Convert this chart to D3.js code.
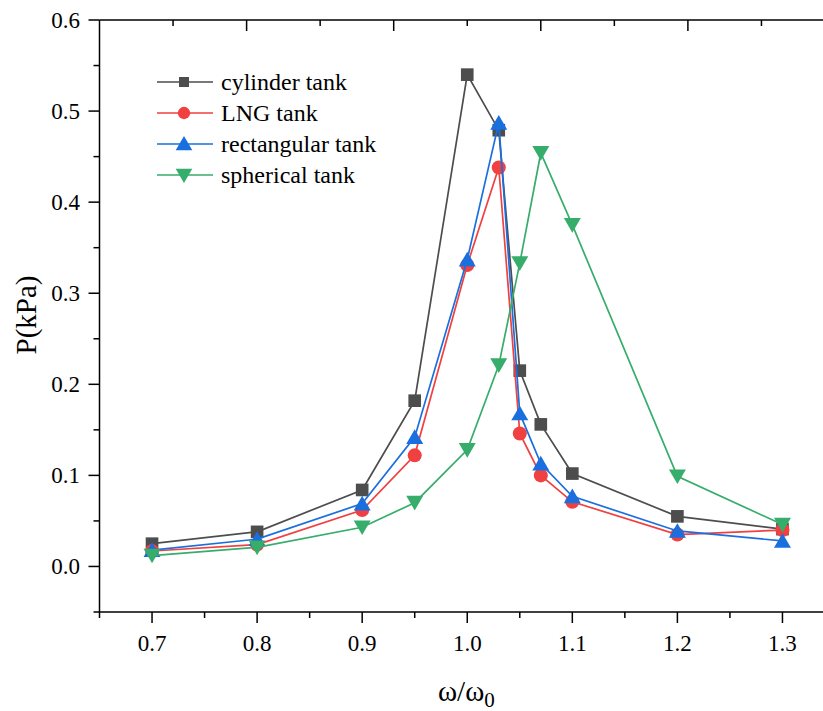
<!DOCTYPE html>
<html>
<head>
<meta charset="utf-8">
<script src="https://cdn.jsdelivr.net/npm/d3@7"></script>
<style>
  html, body { margin: 0; padding: 0; background: #fff; }
  svg { display: block; font-family: "Liberation Serif", "Times New Roman", serif; }
</style>
</head>
<body>
<div id="chart"></div>
<script>
// ------- Data
const freqRatio = [0.7, 0.8, 0.9, 0.95, 1.0, 1.03, 1.05, 1.07, 1.1, 1.2, 1.3];

const cylinderTank    = [0.025, 0.038, 0.084, 0.182, 0.540, 0.479, 0.215, 0.156, 0.102, 0.055, 0.041];
const lngTank         = [0.017, 0.024, 0.062, 0.122, 0.331, 0.438, 0.146, 0.100, 0.071, 0.035, 0.040];
const rectangularTank = [0.018, 0.030, 0.069, 0.142, 0.337, 0.487, 0.168, 0.113, 0.077, 0.039, 0.028];
const sphericalTank   = [0.012, 0.021, 0.043, 0.070, 0.128, 0.221, 0.333, 0.454, 0.375, 0.099, 0.046];

const seriesNames = ['cylinder tank', 'LNG tank', 'rectangular tank', 'spherical tank'];

const xTicks = [0.7, 0.8, 0.9, 1.0, 1.1, 1.2, 1.3];
const yTicks = [0.0, 0.1, 0.2, 0.3, 0.4, 0.5, 0.6];

// ------- Series styling
const series = [
  { name: seriesNames[0], values: cylinderTank,    color: '#4d4d4d', symbol: d3.symbolSquare,   size: 160, rot: 0 },
  { name: seriesNames[1], values: lngTank,         color: '#f14040', symbol: d3.symbolCircle,   size: 155, rot: 0 },
  { name: seriesNames[2], values: rectangularTank, color: '#1a6fdf', symbol: d3.symbolTriangle, size: 125, rot: 0 },
  { name: seriesNames[3], values: sphericalTank,   color: '#37ad6b', symbol: d3.symbolTriangle, size: 125, rot: 180 }
];

// ------- Dimensions
const width = 823, height = 711;
const plot = { left: 99.5, right: 835, top: 20, bottom: 612 };

const svg = d3.select('#chart').append('svg')
  .attr('width', width)
  .attr('height', height)
  .attr('viewBox', `0 0 ${width} ${height}`);

// ------- Scales
const x = d3.scaleLinear().domain([0.65, 1.35]).range([plot.left, plot.right]);
const y = d3.scaleLinear().domain([-0.05, 0.6]).range([plot.bottom, plot.top]);
// top axis in Origin uses its own (unlabelled) scale: 5 major divisions
const xTop = d3.scaleLinear().domain([0, 5]).range([plot.left, plot.right]);

const MAJOR = 11, MINOR = 6;
const axisColor = '#000';

// ------- Bottom axis
const bottomAxis = svg.append('g');
bottomAxis.append('line')
  .attr('x1', plot.left).attr('x2', plot.right)
  .attr('y1', plot.bottom).attr('y2', plot.bottom)
  .attr('stroke', axisColor).attr('stroke-width', 1.5);
const xMinor = d3.range(0.65, 1.36, 0.1).map(v => +v.toFixed(2));
bottomAxis.selectAll('.xmin').data(xMinor).join('line')
  .attr('x1', d => x(d)).attr('x2', d => x(d))
  .attr('y1', plot.bottom).attr('y2', plot.bottom + MINOR)
  .attr('stroke', axisColor).attr('stroke-width', 1.5);
bottomAxis.selectAll('.xmaj').data(xTicks).join('line')
  .attr('x1', d => x(d)).attr('x2', d => x(d))
  .attr('y1', plot.bottom).attr('y2', plot.bottom + MAJOR)
  .attr('stroke', axisColor).attr('stroke-width', 1.5);
bottomAxis.selectAll('.xlab').data(xTicks).join('text')
  .attr('x', d => x(d)).attr('y', 651)
  .attr('text-anchor', 'middle')
  .attr('font-size', 23)
  .attr('fill', '#000')
  .text(d => d.toFixed(1));

// ------- Top axis (ticks inward, no labels)
const topAxis = svg.append('g');
topAxis.append('line')
  .attr('x1', plot.left).attr('x2', plot.right)
  .attr('y1', plot.top).attr('y2', plot.top)
  .attr('stroke', axisColor).attr('stroke-width', 1.5);
topAxis.selectAll('.tmaj').data(d3.range(1, 5)).join('line')
  .attr('x1', d => xTop(d)).attr('x2', d => xTop(d))
  .attr('y1', plot.top).attr('y2', plot.top + MAJOR)
  .attr('stroke', axisColor).attr('stroke-width', 1.5);
topAxis.selectAll('.tmin').data(d3.range(0.5, 5, 1)).join('line')
  .attr('x1', d => xTop(d)).attr('x2', d => xTop(d))
  .attr('y1', plot.top).attr('y2', plot.top + MINOR)
  .attr('stroke', axisColor).attr('stroke-width', 1.5);

// ------- Left axis
const leftAxis = svg.append('g');
leftAxis.append('line')
  .attr('x1', plot.left).attr('x2', plot.left)
  .attr('y1', plot.top).attr('y2', plot.bottom)
  .attr('stroke', axisColor).attr('stroke-width', 1.5);
const yMinor = d3.range(-0.05, 0.6, 0.1).map(v => +v.toFixed(2));
leftAxis.selectAll('.ymin').data(yMinor).join('line')
  .attr('x1', plot.left - MINOR).attr('x2', plot.left)
  .attr('y1', d => y(d)).attr('y2', d => y(d))
  .attr('stroke', axisColor).attr('stroke-width', 1.5);
leftAxis.selectAll('.ymaj').data(yTicks).join('line')
  .attr('x1', plot.left - MAJOR).attr('x2', plot.left)
  .attr('y1', d => y(d)).attr('y2', d => y(d))
  .attr('stroke', axisColor).attr('stroke-width', 1.5);
leftAxis.selectAll('.ylab').data(yTicks).join('text')
  .attr('x', 80).attr('y', d => y(d) + 7.5)
  .attr('text-anchor', 'end')
  .attr('font-size', 23)
  .attr('fill', '#000')
  .text(d => d.toFixed(1));

// ------- Axis titles
svg.append('text')
  .attr('transform', 'translate(36,315) rotate(-90)')
  .attr('text-anchor', 'middle')
  .attr('font-size', 29)
  .attr('fill', '#000')
  .text('P(kPa)');

const xTitle = svg.append('text')
  .attr('x', 438).attr('y', 701)
  .attr('font-size', 29)
  .attr('fill', '#000');
xTitle.append('tspan').text('ω/ω');
xTitle.append('tspan').attr('font-size', 21).attr('dy', 6).text('0');

// ------- Series
const line = d3.line().x(d => x(d[0])).y(d => y(d[1]));

series.forEach(s => {
  const pts = freqRatio.map((f, i) => [f, s.values[i]]);
  const g = svg.append('g').attr('class', 'series');
  g.append('path')
    .datum(pts)
    .attr('d', line)
    .attr('fill', 'none')
    .attr('stroke', s.color)
    .attr('stroke-width', 1.7);
  g.selectAll('path.mark').data(pts).join('path')
    .attr('class', 'mark')
    .attr('d', d3.symbol().type(s.symbol).size(s.size))
    .attr('transform', d => `translate(${x(d[0])},${y(d[1]) + (s.symbol === d3.symbolTriangle ? (s.rot ? -2 : 2) : 0)}) rotate(${s.rot})`)
    .attr('fill', s.color);
});

// ------- Legend
const legend = svg.append('g').attr('class', 'legend');
const legRows = legend.selectAll('g').data(series).join('g')
  .attr('transform', (d, i) => `translate(0,${82 + i * 31})`);
legRows.append('line')
  .attr('x1', 157).attr('x2', 213)
  .attr('y1', 0).attr('y2', 0)
  .attr('stroke', d => d.color)
  .attr('stroke-width', 1.7);
legRows.append('path')
  .attr('d', d => d3.symbol().type(d.symbol).size(d.symbol === d3.symbolSquare ? 100 : 120)())
  .attr('transform', d => `translate(184,${d.symbol === d3.symbolTriangle ? (d.rot ? -1.5 : 1.5) : 0}) rotate(${d.rot})`)
  .attr('fill', d => d.color);
legRows.append('text')
  .attr('x', 221).attr('y', 8)
  .attr('font-size', 24)
  .attr('fill', '#000')
  .text(d => d.name);
</script>
</body>
</html>
